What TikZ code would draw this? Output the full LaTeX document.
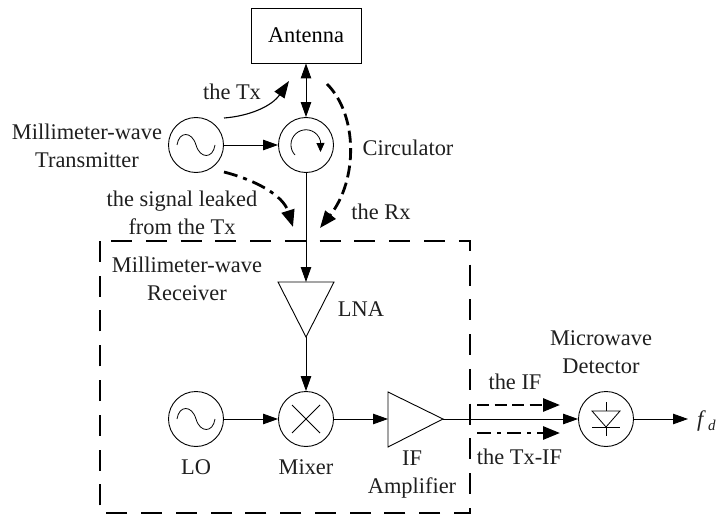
\documentclass[tikz,border=0pt]{standalone}
\usepackage{fontspec}
\setmainfont{Liberation Serif}
\usetikzlibrary{arrows.meta,calc}
\tikzset{
  every node/.style={font=\fontsize{22.4}{28}\selectfont,inner sep=0pt,align=center},
  lbl/.style={text=black!88},
  wire/.style={line width=0.9pt,-{Triangle[length=15pt,width=10.5pt]}},
  dwire/.style={line width=0.9pt,{Triangle[length=15pt,width=10.5pt]}-{Triangle[length=15pt,width=10.5pt]}},
  round/.style={circle,draw,line width=0.9pt,minimum size=55pt},
  boxnode/.style={rectangle,draw,line width=0.9pt,minimum width=110pt,minimum height=55pt},
  heavy/.style={line width=2.8pt,-{Triangle[length=17pt,width=13pt]}},
  heavydash/.style={heavy,dash pattern=on 12pt off 5.5pt},
  heavydot/.style={heavy,dash pattern=on 14pt off 6pt on 4pt off 6pt},
  glyph/.style={line width=0.8pt},
}
\begin{document}
\begin{tikzpicture}[x=1pt,y=-1pt]
\useasboundingbox (0,0) rectangle (718,516);
\node[boxnode] (ant) at (306,35.5) {Antenna};
\node[round] (tx) at (196,145) {};
\node[round] (circ) at (306,145) {};
\node[round] (lo) at (196,419) {};
\node[round] (mix) at (306,419) {};
\node[round] (det) at (606,419) {};
\coordinate (lnaTL) at (278,282);
\coordinate (lnaTR) at (334,282);
\coordinate (lnaB) at (306,337);
\coordinate (lnaT) at (306,282);
\coordinate (ampT) at (388,392);
\coordinate (ampB) at (388,447);
\coordinate (ampL) at (388,419);
\coordinate (ampR) at (443,419);
\coordinate (fd) at (688,419);
\draw[line width=0.9pt] (lnaTL) -- (lnaTR) -- (lnaB) -- cycle;
\draw[line width=0.9pt] (ampT) -- (ampR) -- (ampB) -- cycle;
% dashed receiver box
\draw[line width=2.8pt,dash pattern=on 21pt off 13.78pt] (111,241) -- (470,241) -- (470,513) -- (100,513) -- (100,241);
% wires
\draw[dwire] (ant) -- (circ);
\draw[wire] (tx) -- (circ);
\draw[wire] (circ) -- (lnaT);
\draw[wire] (lnaB) -- (mix);
\draw[wire] (lo) -- (mix);
\draw[wire] (mix) -- (ampL);
\draw[wire] (ampR) -- (det);
\draw[wire] (det) -- (fd);
% curves
\coordinate (txs) at (224,118);
\coordinate (txe) at (289,81);
\draw[line width=1.1pt,-{Triangle[length=17pt,width=12pt]}] (txs) .. controls (250,116) and (272,106) .. (txe);
\coordinate (rxs) at (327,84);
\coordinate (rxe) at (320,228);
\draw[heavydash] (rxs) .. controls (358,115) and (358,180) .. (rxe);
\coordinate (leaks) at (224,172);
\coordinate (leake) at (293,227);
\draw[heavydot] (leaks) .. controls (255,180) and (283,195) .. (leake);
\coordinate (ifs) at (477,405);
\coordinate (ife) at (560,405);
\draw[heavydash] (ifs) -- (ife);
\coordinate (tis) at (477,433);
\coordinate (tie) at (560,433);
\draw[heavydot] (tis) -- (tie);
% glyphs: oscillators
\foreach \c in {tx,lo}{
  \draw[glyph] ($(\c)+(-19,0)$) .. controls ($(\c)+(-17,-14)$) and ($(\c)+(-4,-14)$) .. ($(\c)+(0,0)$) .. controls ($(\c)+(4,14)$) and ($(\c)+(17,14)$) .. ($(\c)+(19,0)$);
}
% circulator glyph
\draw[glyph,-{Triangle[length=9pt,width=8pt]}] ($(circ)+(-11,10)$) arc[start angle=137,end angle=345,radius=15] -- ($(circ)+(14.5,7)$);
% mixer
\draw[glyph] ($(mix)+(-14,-14)$) -- ($(mix)+(14,14)$);
\draw[glyph] ($(mix)+(-14,14)$) -- ($(mix)+(14,-14)$);
% detector diode
\draw[glyph] ($(det)+(-14,-8)$) -- ($(det)+(14,-8)$) -- ($(det)+(0,8)$) -- cycle;
\draw[glyph] ($(det)+(-14,8)$) -- ($(det)+(14,8)$);
\draw[glyph] ($(det)+(0,-17)$) -- ($(det)+(0,-8)$);
\draw[glyph] ($(det)+(0,8)$) -- ($(det)+(0,17)$);
% labels
\node[lbl] (lTx) at (232,92) {the Tx};
\node[lbl] (lMT) at (87,146) {Millimeter-wave\\Transmitter};
\node[lbl] (lCirc) at (408,148) {Circulator};
\node[lbl] (lLeak) at (182,213) {the signal leaked\\from the Tx};
\node[lbl] (lRx) at (381,212) {the Rx};
\node[lbl] (lMR) at (187,279) {Millimeter-wave\\Receiver};
\node[lbl] (lLNA) at (361,309) {LNA};
\node[lbl] (lLO) at (196,467) {LO};
\node[lbl] (lMix) at (306,467) {Mixer};
\node[lbl] (lIF) at (412,475) {IF\\Amplifier};
\node[lbl] (lMD) at (601,352) {Microwave\\Detector};
\node[lbl] (lIFa) at (515,382) {the IF};
\node[lbl] (lTI) at (519.5,457) {the Tx-IF};
\node[lbl,anchor=west] (lfd) at (697,421) {\textit{f}\hspace{2pt}\raisebox{-4pt}{\fontsize{15}{15}\selectfont\textit{d}}};
\end{tikzpicture}
\end{document}
